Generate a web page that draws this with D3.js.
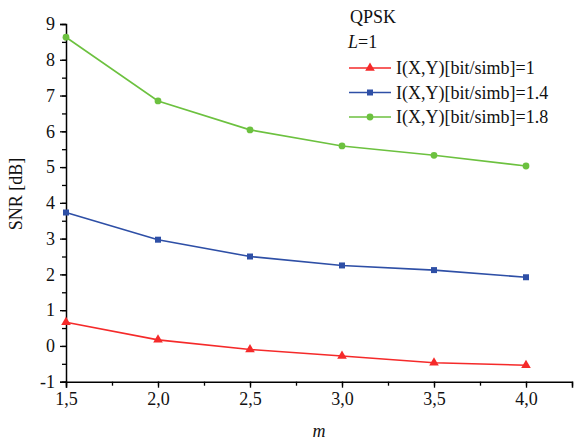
<!DOCTYPE html>
<html><head><meta charset="utf-8">
<script src="https://cdn.jsdelivr.net/npm/d3@7"></script>
<style>body{margin:0;background:#fff}svg text{font-family:"Liberation Serif","Times New Roman",serif !important}</style>
</head><body><svg id="c" width="574" height="442"></svg>
<script>
const mValues = [1.5, 2.0, 2.5, 3.0, 3.5, 4.0];
const snr1 = [0.66, 0.17, -0.10, -0.28, -0.47, -0.54];
const snr14 = [3.73, 2.97, 2.50, 2.25, 2.12, 1.92];
const snr18 = [8.63, 6.85, 6.04, 5.59, 5.33, 5.03];
const seriesNames = ["I(X,Y)[bit/simb]=1", "I(X,Y)[bit/simb]=1.4", "I(X,Y)[bit/simb]=1.8"];
const seriesColors = ["#f52a2a", "#2e4fa6", "#6cc13f"];
const seriesShapes = [d3.symbolTriangle, d3.symbolSquare, d3.symbolCircle];
const xTicks = [1.5, 2.0, 2.5, 3.0, 3.5, 4.0];
const yTicks = [-1, 0, 1, 2, 3, 4, 5, 6, 7, 8, 9];

const FS = 18;
const svg = d3.select("#c");
const x = d3.scaleLinear().domain([1.5, 4.25]).range([66, 572]);
const y = d3.scaleLinear().domain([-1, 9]).range([381.7, 24]);
const fmt = d => d3.format(".1f")(d).replace(".", ",");

// x axis
const xa = svg.append("g").attr("transform", `translate(0,${y(-1)})`);
xa.call(d3.axisBottom(x).tickValues(d3.range(1.5, 4.26, 0.25)).tickSize(4).tickFormat(""));
xa.call(g => g.select(".domain").remove());
const xa2 = svg.append("g").attr("transform", `translate(0,${y(-1)})`)
  .call(d3.axisBottom(x).tickValues(xTicks).tickSize(6).tickPadding(5).tickFormat(fmt));
xa2.selectAll("text").attr("font-size", FS).attr("fill", "#111");

// y axis
const ya = svg.append("g").attr("transform", `translate(${x(1.5)},0)`)
  .call(d3.axisLeft(y).tickValues(d3.range(-1, 9.01, 0.5)).tickSize(4).tickFormat(""));
ya.select(".domain").remove();
const ya2 = svg.append("g").attr("transform", `translate(${x(1.5)},0)`)
  .call(d3.axisLeft(y).tickValues(yTicks).tickSize(6).tickPadding(5).tickFormat(d => String(d)));
ya2.selectAll("text").attr("font-size", FS).attr("fill", "#111");
svg.selectAll(".domain").attr("stroke-width", 1.5);
svg.selectAll(".tick line").attr("stroke-width", 1.3);

// axis titles
svg.append("text").attr("transform", "translate(22,194) rotate(-90)").attr("text-anchor", "middle")
  .attr("font-size", FS).attr("fill", "#111").text("SNR [dB]");
svg.append("text").attr("x", 319).attr("y", 437).attr("text-anchor", "middle")
  .attr("font-size", FS).attr("font-style", "italic").attr("fill", "#111").text("m");

// series
const all = [snr1, snr14, snr18];
const line = d3.line().x(d => x(d[0])).y(d => y(d[1]));
all.forEach((vals, i) => {
  const pts = mValues.map((m, j) => [m, vals[j]]);
  svg.append("path").attr("d", line(pts)).attr("fill", "none")
    .attr("stroke", seriesColors[i]).attr("stroke-width", 1.6);
  svg.selectAll(null).data(pts).enter().append("path")
    .attr("transform", d => `translate(${x(d[0])},${y(d[1])})`)
    .attr("d", d3.symbol().type(seriesShapes[i]).size(i === 0 ? 40 : 36))
    .attr("fill", seriesColors[i]);
});

// legend
svg.append("text").attr("x", 350).attr("y", 23).attr("font-size", FS).attr("fill", "#111").text("QPSK");
const lt = svg.append("text").attr("x", 348).attr("y", 48).attr("font-size", FS).attr("fill", "#111");
lt.append("tspan").attr("font-style", "italic").text("L");
lt.append("tspan").text("=1");
seriesNames.forEach((name, i) => {
  const yy = 68 + i * 24.5;
  svg.append("line").attr("x1", 349).attr("x2", 391).attr("y1", yy).attr("y2", yy)
    .attr("stroke", seriesColors[i]).attr("stroke-width", 1.6);
  svg.append("path").attr("transform", `translate(370,${yy})`)
    .attr("d", d3.symbol().type(seriesShapes[i]).size(i === 0 ? 40 : 36)).attr("fill", seriesColors[i]);
  svg.append("text").attr("x", 396).attr("y", yy + 6).attr("font-size", FS).attr("fill", "#111").text(name);
});
</script></body></html>
